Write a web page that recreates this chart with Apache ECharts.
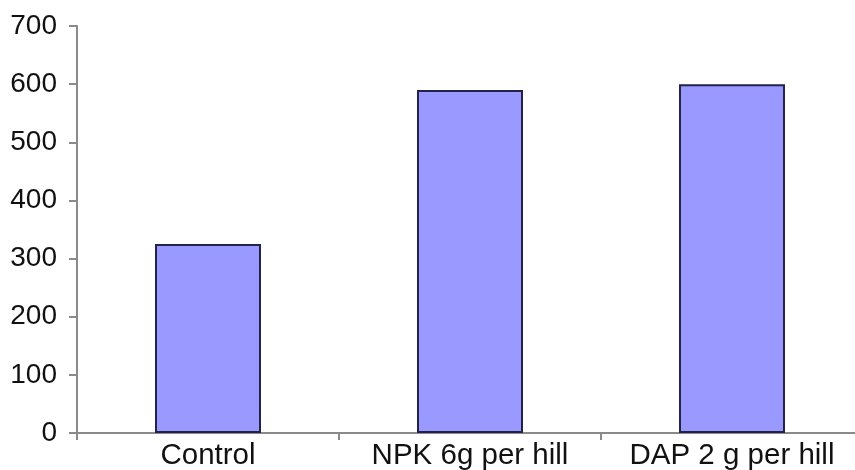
<!DOCTYPE html>
<html>
<head>
<meta charset="utf-8">
<style>
  html, body { margin: 0; padding: 0; background: #ffffff; }
  #chart { width: 855px; height: 470px; }
</style>
<script src="https://cdn.jsdelivr.net/npm/echarts@6/dist/echarts.min.js"></script>
</head>
<body>
<div id="chart"></div>
<script>
// Treatment groups along the horizontal axis
const categories = ['Control', 'NPK 6g per hill', 'DAP 2 g per hill'];
// Measured value for each treatment
const values = [325, 590, 600];
// Vertical axis range
const yMin = 0;
const yMax = 700;
const yStep = 100;

const chart = echarts.init(document.getElementById('chart'), null, { renderer: 'canvas' });

const axisGrey = '#8a8a8a';
const fontFamily = '"Liberation Sans", Arial, sans-serif';
const textColor = '#111111';

chart.setOption({
  animation: false,
  backgroundColor: '#ffffff',
  // plot area runs a little past the right edge of the canvas
  grid: {
    left: 77, width: 786, top: 26, height: 407,
    containLabel: false,
    outerBoundsMode: 'none'
  },
  xAxis: {
    type: 'category',
    data: categories,
    boundaryGap: true,
    axisLine: { show: true, lineStyle: { color: axisGrey, width: 2 } },
    axisTick: { show: true, length: 7, lineStyle: { color: axisGrey, width: 2 } },
    axisLabel: {
      margin: 8, interval: 0,
      fontFamily: fontFamily, fontSize: 29.5, color: textColor
    },
    splitLine: { show: false }
  },
  yAxis: {
    type: 'value',
    min: yMin,
    max: yMax,
    interval: yStep,
    axisLine: { show: true, lineStyle: { color: axisGrey, width: 2 } },
    axisTick: { show: true, length: 8, lineStyle: { color: axisGrey, width: 2 } },
    axisLabel: {
      margin: 20,
      fontFamily: fontFamily, fontSize: 28, color: textColor
    },
    splitLine: { show: false }
  },
  series: [{
    type: 'bar',
    data: values,
    barWidth: 106,
    itemStyle: {
      color: '#9999ff',
      borderColor: '#23234a',
      borderWidth: 2
    }
  }]
});
</script>
</body>
</html>
